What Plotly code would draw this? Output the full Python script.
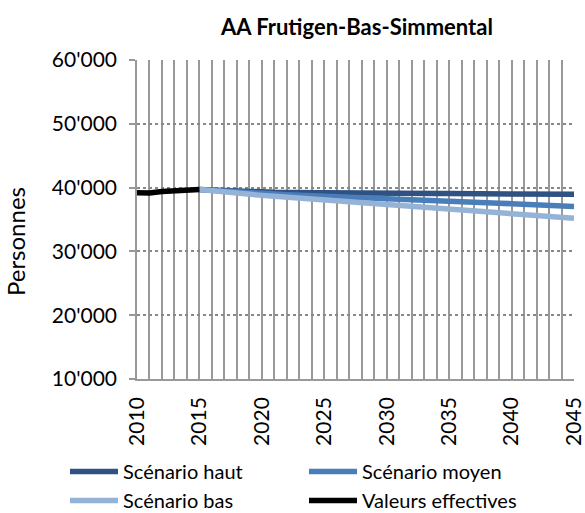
import plotly.graph_objects as go

years_eff = [2010, 2011, 2012, 2013, 2014, 2015]
vals_eff = [39200, 39150, 39400, 39500, 39600, 39700]

years_sc = [2015, 2016, 2017, 2018, 2019, 2020, 2021, 2022, 2023, 2024, 2025,
            2026, 2027, 2028, 2029, 2030, 2031, 2032, 2033, 2034, 2035,
            2036, 2037, 2038, 2039, 2040, 2041, 2042, 2043, 2044, 2045]
haut = [39700, 39600, 39500, 39420, 39360, 39300, 39260, 39230, 39200, 39180, 39160,
        39150, 39140, 39130, 39120, 39110, 39100, 39090, 39080, 39070, 39060,
        39050, 39040, 39030, 39020, 39010, 39000, 38990, 38980, 38960, 38950]
moyen = [39700, 39550, 39420, 39300, 39180, 39080, 38980, 38890, 38800, 38720, 38640,
         38560, 38480, 38400, 38320, 38240, 38160, 38080, 38000, 37920, 37850,
         37780, 37700, 37630, 37550, 37480, 37400, 37320, 37240, 37150, 37050]
bas = [39700, 39480, 39280, 39100, 38930, 38780, 38640, 38500, 38370, 38240, 38110,
       37980, 37850, 37720, 37590, 37460, 37320, 37180, 37040, 36900, 36760,
       36620, 36470, 36320, 36170, 36020, 35860, 35700, 35540, 35370, 35200]

y_ticks = [10000, 20000, 30000, 40000, 50000, 60000]
x_ticks = [2010, 2015, 2020, 2025, 2030, 2035, 2040, 2045]

FONT = "Lato"
W, H = 585, 513
L, R, T, B = 137, 11, 60, 134
PW, PH = W - L - R, H - T - B

fig = go.Figure()
fig.add_trace(go.Scatter(x=years_sc, y=haut, mode="lines", name="Scénario haut",
                         line=dict(color="#2F5283", width=5.5)))
fig.add_trace(go.Scatter(x=years_sc, y=moyen, mode="lines", name="Scénario moyen",
                         line=dict(color="#4A7EBB", width=5.5)))
fig.add_trace(go.Scatter(x=years_sc, y=bas, mode="lines", name="Scénario bas",
                         line=dict(color="#95B3D7", width=5.5)))
fig.add_trace(go.Scatter(x=years_eff, y=vals_eff, mode="lines", name="Valeurs effectives",
                         line=dict(color="#000000", width=5.5)))

fig.update_layout(
    width=W, height=H,
    margin=dict(l=L, r=R, t=T, b=B, autoexpand=False),
    paper_bgcolor="white", plot_bgcolor="white",
    separators=".'",
    font=dict(family=FONT, color="#000000"),
    title=dict(text="<b>AA Frutigen-Bas-Simmental</b>", x=357 / W, xanchor="center",
               y=1 - 27 / H, yanchor="middle", font=dict(size=22, family=FONT)),
    showlegend=True,
    legend=dict(orientation="h", x=(65 - L) / PW, xanchor="left",
                y=(T + PH - 452) / PH, yanchor="top",
                entrywidth=176, entrywidthmode="pixels", itemwidth=48,
                font=dict(size=20, family=FONT), tracegroupgap=0,
                bgcolor="rgba(0,0,0,0)"),
    annotations=[dict(text="Personnes", textangle=-90, xref="paper", yref="paper",
                      x=(15 - L) / PW, y=(T + PH - 242) / PH, xanchor="center",
                      yanchor="middle", showarrow=False,
                      font=dict(size=24, family=FONT))],
)

fig.update_xaxes(
    range=[2010, 2045], tickmode="array", tickvals=x_ticks,
    ticktext=[str(v) for v in x_ticks], tickangle=-90,
    tickfont=dict(size=21, family=FONT),
    showgrid=True, gridcolor="#999999", gridwidth=2,
    minor=dict(dtick=1, tick0=2010, showgrid=True, gridcolor="#999999", gridwidth=2),
    showline=True, linecolor="#999999", linewidth=1.5,
    ticks="", zeroline=False, ticklabelstandoff=8,
)
fig.update_yaxes(
    range=[10000, 60000], tickmode="array", tickvals=y_ticks, tickformat=",d",
    tickfont=dict(size=21, family=FONT),
    showgrid=True, gridcolor="#888888", gridwidth=1.5, griddash="dot",
    showline=True, linecolor="#999999", linewidth=1.5,
    ticks="outside", ticklen=6, tickcolor="#999999", tickwidth=1.5,
    zeroline=False, ticklabelstandoff=8,
)

fig.write_html("out.html", config={"displayModeBar": False},
               post_script="document.body.style.margin='0';document.body.style.overflow='hidden';")
